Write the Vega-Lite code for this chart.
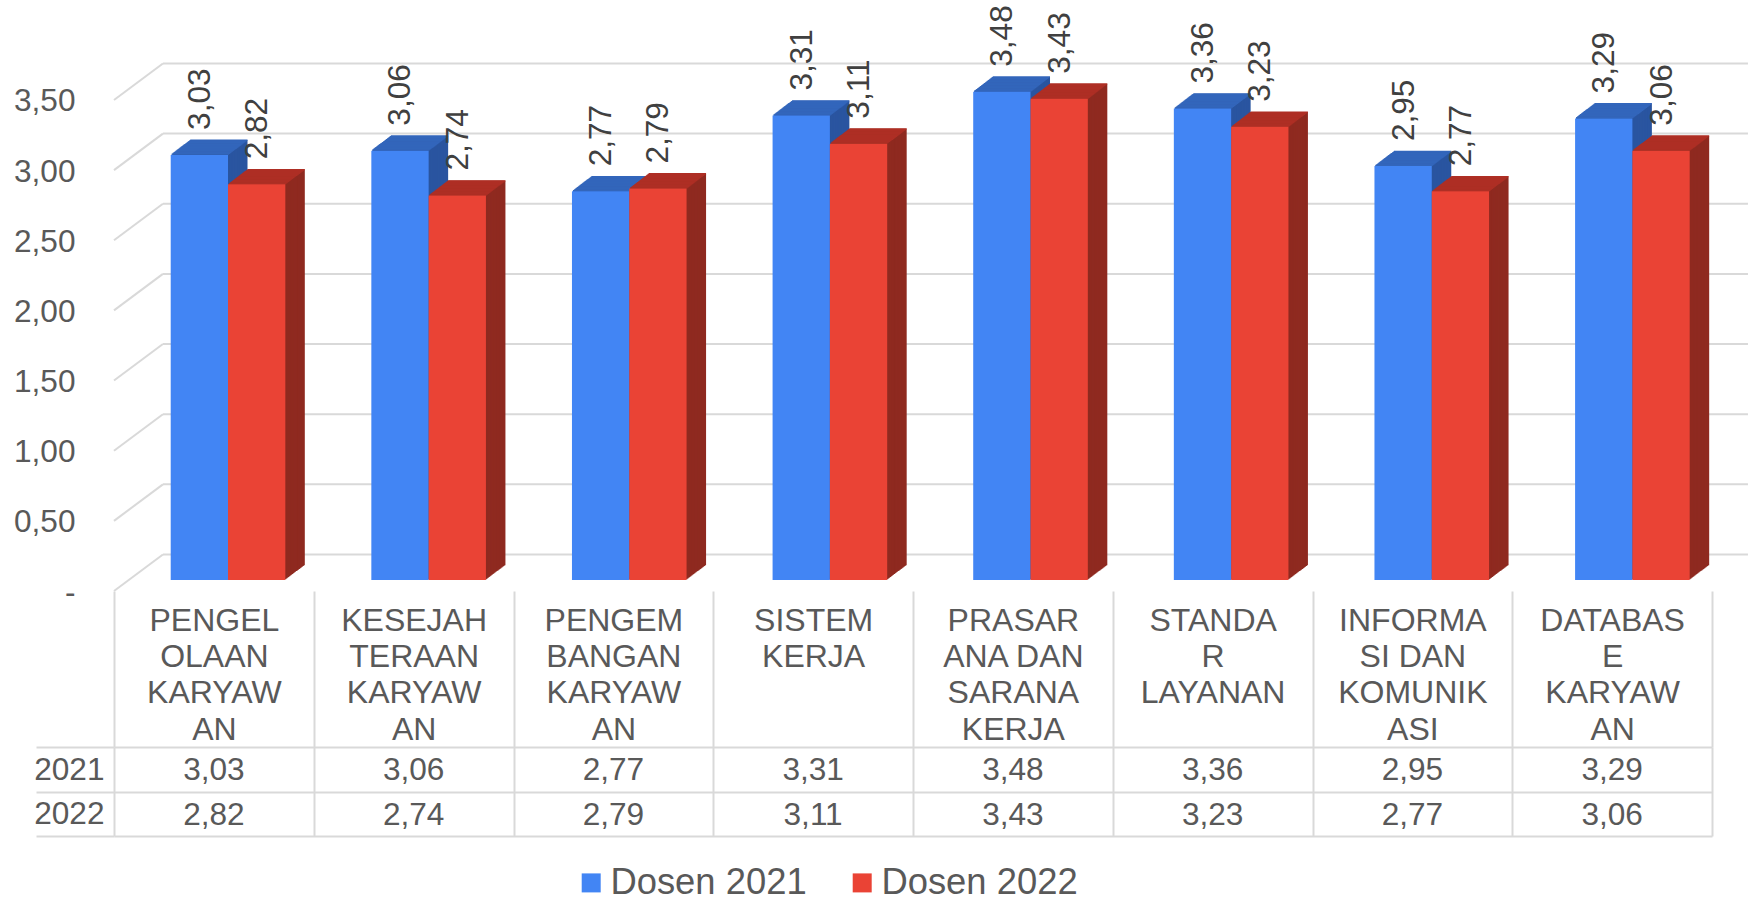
{
"$schema":"https://vega.github.io/schema/vega-lite/v6.json",
"background":"white",
"padding":{"left":13,"top":0,"right":0,"bottom":0},
"spacing":156,
"bounds":"flush",
"config":{"font":"Liberation Sans","view":{"stroke":null},"locale":{"number":{"decimal":",","thousands":".","grouping":[3],"currency":["",""]}}},
"data":{"values":[
{"cat":"PENGEL\nOLAAN\nKARYAW\nAN","year":2021,"series":"Dosen 2021","value":3.03},
{"cat":"PENGEL\nOLAAN\nKARYAW\nAN","year":2022,"series":"Dosen 2022","value":2.82},
{"cat":"KESEJAH\nTERAAN\nKARYAW\nAN","year":2021,"series":"Dosen 2021","value":3.06},
{"cat":"KESEJAH\nTERAAN\nKARYAW\nAN","year":2022,"series":"Dosen 2022","value":2.74},
{"cat":"PENGEM\nBANGAN\nKARYAW\nAN","year":2021,"series":"Dosen 2021","value":2.77},
{"cat":"PENGEM\nBANGAN\nKARYAW\nAN","year":2022,"series":"Dosen 2022","value":2.79},
{"cat":"SISTEM\nKERJA","year":2021,"series":"Dosen 2021","value":3.31},
{"cat":"SISTEM\nKERJA","year":2022,"series":"Dosen 2022","value":3.11},
{"cat":"PRASAR\nANA DAN\nSARANA\nKERJA","year":2021,"series":"Dosen 2021","value":3.48},
{"cat":"PRASAR\nANA DAN\nSARANA\nKERJA","year":2022,"series":"Dosen 2022","value":3.43},
{"cat":"STANDA\nR\nLAYANAN","year":2021,"series":"Dosen 2021","value":3.36},
{"cat":"STANDA\nR\nLAYANAN","year":2022,"series":"Dosen 2022","value":3.23},
{"cat":"INFORMA\nSI DAN\nKOMUNIK\nASI","year":2021,"series":"Dosen 2021","value":2.95},
{"cat":"INFORMA\nSI DAN\nKOMUNIK\nASI","year":2022,"series":"Dosen 2022","value":2.77},
{"cat":"DATABAS\nE\nKARYAW\nAN","year":2021,"series":"Dosen 2021","value":3.29},
{"cat":"DATABAS\nE\nKARYAW\nAN","year":2022,"series":"Dosen 2022","value":3.06}
]},
"vconcat":[
{"width":1598,"height":591,
 "resolve":{"scale":{"x":"independent"}},
 "layer":[
  {"data":{"values":[{"tick":0,"back":0.26},{"tick":0.5,"back":0.76},{"tick":1,"back":1.26},{"tick":1.5,"back":1.76},{"tick":2,"back":2.26},{"tick":2.5,"back":2.76},{"tick":3,"back":3.26},{"tick":3.5,"back":3.76}]},
   "layer":[
    {"mark":{"type":"rule","color":"#d9d9d9","strokeWidth":2},
     "encoding":{"x":{"datum":0,"type":"quantitative","scale":{"domain":[0,8],"nice":false},"axis":null},"x2":{"datum":0.245},
      "y":{"field":"tick","type":"quantitative","scale":{"domain":[0,4.2124],"nice":false},
       "axis":{"title":null,"values":[0,0.5,1,1.5,2,2.5,3,3.5],"format":".2f","labelExpr":"datum.value==0?'-':datum.label","domain":false,"ticks":false,"grid":false,"labelFontSize":31.6,"labelColor":"#595959","labelPadding":39,"labelOffset":2}},
      "y2":{"field":"back"}}},
    {"mark":{"type":"rule","color":"#d9d9d9","strokeWidth":2},
     "encoding":{"x":{"datum":0.245,"type":"quantitative","scale":{"domain":[0,8],"nice":false},"axis":null},"x2":{"datum":8.18},
      "y":{"field":"back","type":"quantitative"}}}
   ]},
  {"mark":{"type":"rule","opacity":0},
   "encoding":{"x":{"field":"cat","type":"nominal","sort":null,"scale":{"paddingInner":0,"paddingOuter":0},
     "axis":{"title":null,"orient":"bottom","labelExpr":"split(datum.label,'\\n')","labelAngle":0,"labelAlign":"center","labelBaseline":"top","labelFontSize":32,"labelColor":"#595959","labelLineHeight":36.4,"labelLimit":0,"labelOverlap":false,"labelFlush":false,"domain":false,"tickBand":"extent","tickSize":156,"tickColor":"#d9d9d9","tickWidth":2,"labelPadding":-142,"grid":false}}}},
  {"encoding":{
    "x":{"field":"cat","type":"nominal","sort":null,"scale":{"paddingInner":0,"paddingOuter":0,"range":[-0.6,1604.4]},"axis":null},
    "y":{"field":"value","type":"quantitative","stack":null},
    "size":{"value":57.3}},
   "layer":[
    {"transform":[{"filter":"datum.year==2021"}],
     "layer":[
      {"encoding":{"color":{"value":"#2A55A0"},"y2":{"datum":0}},
       "layer":[
        {"mark":{"type":"bar","xOffset":5.15,"yOffset":-25.8,"y2Offset":-25.8}},
        {"mark":{"type":"bar","xOffset":4.18,"yOffset":-25.06,"y2Offset":-25.06}},
        {"mark":{"type":"bar","xOffset":3.2,"yOffset":-24.32,"y2Offset":-24.32}},
        {"mark":{"type":"bar","xOffset":2.23,"yOffset":-23.58,"y2Offset":-23.58}},
        {"mark":{"type":"bar","xOffset":1.25,"yOffset":-22.84,"y2Offset":-22.84}},
        {"mark":{"type":"bar","xOffset":0.28,"yOffset":-22.1,"y2Offset":-22.1}},
        {"mark":{"type":"bar","xOffset":-0.7,"yOffset":-21.36,"y2Offset":-21.36}},
        {"mark":{"type":"bar","xOffset":-1.67,"yOffset":-20.62,"y2Offset":-20.62}},
        {"mark":{"type":"bar","xOffset":-2.65,"yOffset":-19.88,"y2Offset":-19.88}},
        {"mark":{"type":"bar","xOffset":-3.62,"yOffset":-19.14,"y2Offset":-19.14}},
        {"mark":{"type":"bar","xOffset":-4.6,"yOffset":-18.4,"y2Offset":-18.4}},
        {"mark":{"type":"bar","xOffset":-5.57,"yOffset":-17.66,"y2Offset":-17.66}},
        {"mark":{"type":"bar","xOffset":-6.55,"yOffset":-16.92,"y2Offset":-16.92}},
        {"mark":{"type":"bar","xOffset":-7.52,"yOffset":-16.18,"y2Offset":-16.18}},
        {"mark":{"type":"bar","xOffset":-8.5,"yOffset":-15.44,"y2Offset":-15.44}},
        {"mark":{"type":"bar","xOffset":-9.47,"yOffset":-14.7,"y2Offset":-14.7}},
        {"mark":{"type":"bar","xOffset":-10.45,"yOffset":-13.96,"y2Offset":-13.96}},
        {"mark":{"type":"bar","xOffset":-11.42,"yOffset":-13.22,"y2Offset":-13.22}},
        {"mark":{"type":"bar","xOffset":-12.4,"yOffset":-12.48,"y2Offset":-12.48}},
        {"mark":{"type":"bar","xOffset":-13.37,"yOffset":-11.74,"y2Offset":-11.74}}
       ]},
      {"encoding":{"color":{"value":"#3366BB"}},
       "layer":[
        {"mark":{"type":"tick","thickness":1.3,"opacity":1,"xOffset":5.15,"yOffset":-25.8}},
        {"mark":{"type":"tick","thickness":1.3,"opacity":1,"xOffset":4.18,"yOffset":-25.06}},
        {"mark":{"type":"tick","thickness":1.3,"opacity":1,"xOffset":3.2,"yOffset":-24.32}},
        {"mark":{"type":"tick","thickness":1.3,"opacity":1,"xOffset":2.23,"yOffset":-23.58}},
        {"mark":{"type":"tick","thickness":1.3,"opacity":1,"xOffset":1.25,"yOffset":-22.84}},
        {"mark":{"type":"tick","thickness":1.3,"opacity":1,"xOffset":0.28,"yOffset":-22.1}},
        {"mark":{"type":"tick","thickness":1.3,"opacity":1,"xOffset":-0.7,"yOffset":-21.36}},
        {"mark":{"type":"tick","thickness":1.3,"opacity":1,"xOffset":-1.67,"yOffset":-20.62}},
        {"mark":{"type":"tick","thickness":1.3,"opacity":1,"xOffset":-2.65,"yOffset":-19.88}},
        {"mark":{"type":"tick","thickness":1.3,"opacity":1,"xOffset":-3.62,"yOffset":-19.14}},
        {"mark":{"type":"tick","thickness":1.3,"opacity":1,"xOffset":-4.6,"yOffset":-18.4}},
        {"mark":{"type":"tick","thickness":1.3,"opacity":1,"xOffset":-5.57,"yOffset":-17.66}},
        {"mark":{"type":"tick","thickness":1.3,"opacity":1,"xOffset":-6.55,"yOffset":-16.92}},
        {"mark":{"type":"tick","thickness":1.3,"opacity":1,"xOffset":-7.52,"yOffset":-16.18}},
        {"mark":{"type":"tick","thickness":1.3,"opacity":1,"xOffset":-8.5,"yOffset":-15.44}},
        {"mark":{"type":"tick","thickness":1.3,"opacity":1,"xOffset":-9.47,"yOffset":-14.7}},
        {"mark":{"type":"tick","thickness":1.3,"opacity":1,"xOffset":-10.45,"yOffset":-13.96}},
        {"mark":{"type":"tick","thickness":1.3,"opacity":1,"xOffset":-11.42,"yOffset":-13.22}},
        {"mark":{"type":"tick","thickness":1.3,"opacity":1,"xOffset":-12.4,"yOffset":-12.48}},
        {"mark":{"type":"tick","thickness":1.3,"opacity":1,"xOffset":-13.37,"yOffset":-11.74}}
       ]},
      {"mark":{"type":"bar","xOffset":-14.35,"yOffset":-11,"y2Offset":-11},
       "encoding":{"y2":{"datum":0},"color":{"field":"series","type":"nominal","scale":{"domain":["Dosen 2021","Dosen 2022"],"range":["#4285F4","#EA4335"]},
        "legend":{"title":null,"orient":"none","legendX":459,"legendY":864.5,"direction":"horizontal","columns":2,"padding":0,"labelFontSize":36.4,"labelColor":"#595959","symbolType":"square","symbolSize":361,"symbolStrokeWidth":0,"labelOffset":1,"columnPadding":37,"labelLimit":0}}}}
     ]},
    {"transform":[{"filter":"datum.year==2022"}],
     "layer":[
      {"encoding":{"color":{"value":"#8F2A20"},"y2":{"datum":0}},
       "layer":[
        {"mark":{"type":"bar","xOffset":62.45,"yOffset":-25.8,"y2Offset":-25.8}},
        {"mark":{"type":"bar","xOffset":61.48,"yOffset":-25.06,"y2Offset":-25.06}},
        {"mark":{"type":"bar","xOffset":60.5,"yOffset":-24.32,"y2Offset":-24.32}},
        {"mark":{"type":"bar","xOffset":59.53,"yOffset":-23.58,"y2Offset":-23.58}},
        {"mark":{"type":"bar","xOffset":58.55,"yOffset":-22.84,"y2Offset":-22.84}},
        {"mark":{"type":"bar","xOffset":57.58,"yOffset":-22.1,"y2Offset":-22.1}},
        {"mark":{"type":"bar","xOffset":56.6,"yOffset":-21.36,"y2Offset":-21.36}},
        {"mark":{"type":"bar","xOffset":55.63,"yOffset":-20.62,"y2Offset":-20.62}},
        {"mark":{"type":"bar","xOffset":54.65,"yOffset":-19.88,"y2Offset":-19.88}},
        {"mark":{"type":"bar","xOffset":53.68,"yOffset":-19.14,"y2Offset":-19.14}},
        {"mark":{"type":"bar","xOffset":52.7,"yOffset":-18.4,"y2Offset":-18.4}},
        {"mark":{"type":"bar","xOffset":51.73,"yOffset":-17.66,"y2Offset":-17.66}},
        {"mark":{"type":"bar","xOffset":50.75,"yOffset":-16.92,"y2Offset":-16.92}},
        {"mark":{"type":"bar","xOffset":49.78,"yOffset":-16.18,"y2Offset":-16.18}},
        {"mark":{"type":"bar","xOffset":48.8,"yOffset":-15.44,"y2Offset":-15.44}},
        {"mark":{"type":"bar","xOffset":47.83,"yOffset":-14.7,"y2Offset":-14.7}},
        {"mark":{"type":"bar","xOffset":46.85,"yOffset":-13.96,"y2Offset":-13.96}},
        {"mark":{"type":"bar","xOffset":45.88,"yOffset":-13.22,"y2Offset":-13.22}},
        {"mark":{"type":"bar","xOffset":44.9,"yOffset":-12.48,"y2Offset":-12.48}},
        {"mark":{"type":"bar","xOffset":43.93,"yOffset":-11.74,"y2Offset":-11.74}}
       ]},
      {"encoding":{"color":{"value":"#AE2F25"}},
       "layer":[
        {"mark":{"type":"tick","thickness":1.3,"opacity":1,"xOffset":62.45,"yOffset":-25.8}},
        {"mark":{"type":"tick","thickness":1.3,"opacity":1,"xOffset":61.48,"yOffset":-25.06}},
        {"mark":{"type":"tick","thickness":1.3,"opacity":1,"xOffset":60.5,"yOffset":-24.32}},
        {"mark":{"type":"tick","thickness":1.3,"opacity":1,"xOffset":59.53,"yOffset":-23.58}},
        {"mark":{"type":"tick","thickness":1.3,"opacity":1,"xOffset":58.55,"yOffset":-22.84}},
        {"mark":{"type":"tick","thickness":1.3,"opacity":1,"xOffset":57.58,"yOffset":-22.1}},
        {"mark":{"type":"tick","thickness":1.3,"opacity":1,"xOffset":56.6,"yOffset":-21.36}},
        {"mark":{"type":"tick","thickness":1.3,"opacity":1,"xOffset":55.63,"yOffset":-20.62}},
        {"mark":{"type":"tick","thickness":1.3,"opacity":1,"xOffset":54.65,"yOffset":-19.88}},
        {"mark":{"type":"tick","thickness":1.3,"opacity":1,"xOffset":53.68,"yOffset":-19.14}},
        {"mark":{"type":"tick","thickness":1.3,"opacity":1,"xOffset":52.7,"yOffset":-18.4}},
        {"mark":{"type":"tick","thickness":1.3,"opacity":1,"xOffset":51.73,"yOffset":-17.66}},
        {"mark":{"type":"tick","thickness":1.3,"opacity":1,"xOffset":50.75,"yOffset":-16.92}},
        {"mark":{"type":"tick","thickness":1.3,"opacity":1,"xOffset":49.78,"yOffset":-16.18}},
        {"mark":{"type":"tick","thickness":1.3,"opacity":1,"xOffset":48.8,"yOffset":-15.44}},
        {"mark":{"type":"tick","thickness":1.3,"opacity":1,"xOffset":47.83,"yOffset":-14.7}},
        {"mark":{"type":"tick","thickness":1.3,"opacity":1,"xOffset":46.85,"yOffset":-13.96}},
        {"mark":{"type":"tick","thickness":1.3,"opacity":1,"xOffset":45.88,"yOffset":-13.22}},
        {"mark":{"type":"tick","thickness":1.3,"opacity":1,"xOffset":44.9,"yOffset":-12.48}},
        {"mark":{"type":"tick","thickness":1.3,"opacity":1,"xOffset":43.93,"yOffset":-11.74}}
       ]},
      {"mark":{"type":"bar","xOffset":42.95,"yOffset":-11,"y2Offset":-11},
       "encoding":{"y2":{"datum":0},"color":{"field":"series","type":"nominal"}}}
     ]},
    {"transform":[{"filter":"datum.year==2021"}],
     "mark":{"type":"text","angle":270,"align":"left","baseline":"middle","fontSize":31.6,"color":"#404040","xOffset":-12.85,"yOffset":-36},
     "encoding":{"text":{"field":"value","type":"quantitative","format":".2f"},"size":{"value":31.6}}},
    {"transform":[{"filter":"datum.year==2022"}],
     "mark":{"type":"text","angle":270,"align":"left","baseline":"middle","fontSize":31.6,"color":"#404040","xOffset":44.45,"yOffset":-36},
     "encoding":{"text":{"field":"value","type":"quantitative","format":".2f"},"size":{"value":31.6}}}
   ]}
 ]},
{"width":1598,"height":89,
 "encoding":{
  "x":{"field":"cat","type":"nominal","sort":null,"scale":{"paddingInner":0,"paddingOuter":0},
   "axis":{"title":null,"orient":"bottom","labels":false,"ticks":false,"domain":false,"grid":true,"tickBand":"extent","gridColor":"#d9d9d9","gridWidth":2}},
  "y":{"field":"year","type":"ordinal","scale":{"paddingInner":0,"paddingOuter":0},
   "axis":{"title":null,"domain":false,"tickBand":"extent","tickSize":78,"tickColor":"#d9d9d9","tickWidth":2,"grid":true,"gridColor":"#d9d9d9","gridWidth":2,"labelFontSize":31.6,"labelColor":"#595959","labelPadding":-68,"labelOffset":1}}},
 "layer":[
  {"mark":{"type":"text","fontSize":31.6,"color":"#595959","yOffset":2},
   "encoding":{"text":{"field":"value","type":"quantitative","format":".2f"}}}
 ]}
]
}
